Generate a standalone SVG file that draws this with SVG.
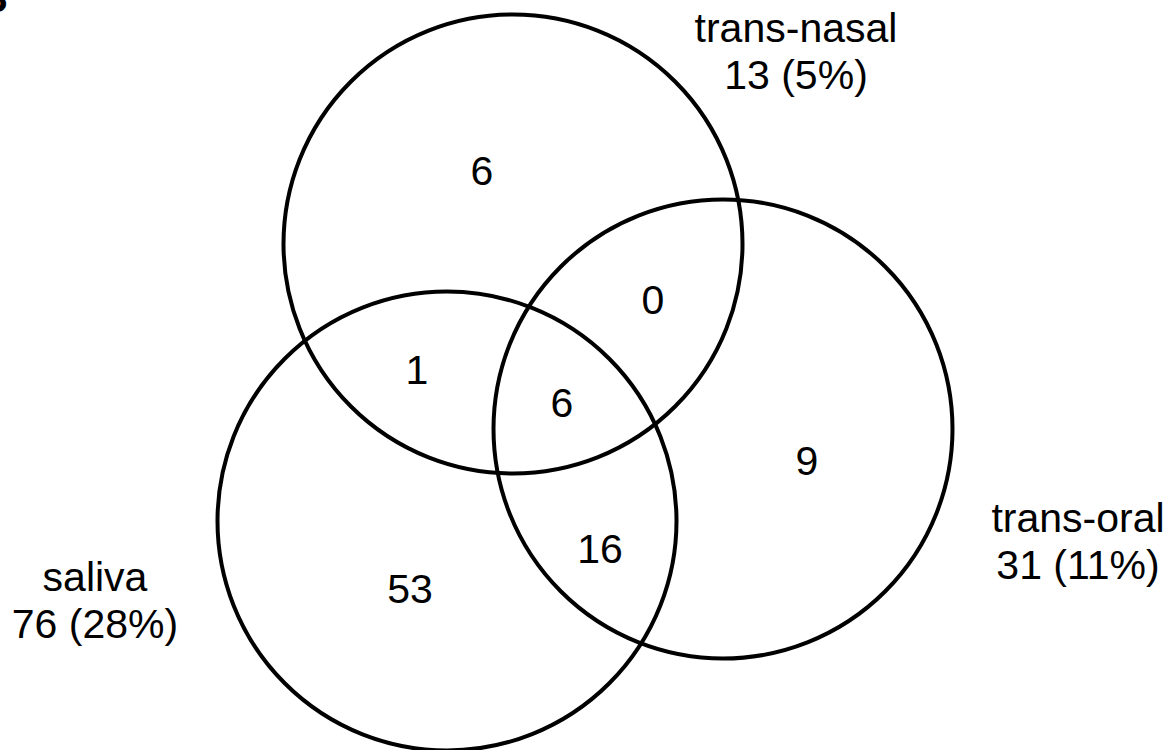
<svg xmlns="http://www.w3.org/2000/svg" width="1173" height="750" viewBox="0 0 1173 750">
  <style>
    .set { fill: none; stroke: #000; stroke-width: 4; }
    .lbl { font-family: "Liberation Sans", Arial, sans-serif; font-size: 41px; fill: #000; text-anchor: middle; }
    .panel { font-family: "Liberation Sans", Arial, sans-serif; font-size: 40px; font-weight: bold; fill: #000; }
  </style>
  <rect width="1173" height="750" fill="#fff"/>

  <!-- panel letter, mostly off the left edge -->
  <text class="panel" x="-21" y="12">B</text>

  <!-- three sets -->
  <g id="trans-nasal">
    <circle class="set" cx="513" cy="244" r="229.5"/>
    <text class="lbl" x="796" y="42">trans-nasal</text>
    <text class="lbl" x="796" y="89">13 (5%)</text>
  </g>
  <g id="saliva">
    <circle class="set" cx="447" cy="521" r="229.5"/>
    <text class="lbl" x="95" y="591">saliva</text>
    <text class="lbl" x="95" y="638">76 (28%)</text>
  </g>
  <g id="trans-oral">
    <circle class="set" cx="723" cy="429" r="229.5"/>
    <text class="lbl" x="1078" y="532">trans-oral</text>
    <text class="lbl" x="1078" y="579">31 (11%)</text>
  </g>

  <!-- region counts -->
  <g id="counts">
    <text class="lbl" x="482" y="185">6</text>
    <text class="lbl" x="653" y="314">0</text>
    <text class="lbl" x="417" y="384">1</text>
    <text class="lbl" x="562" y="417">6</text>
    <text class="lbl" x="807" y="475">9</text>
    <text class="lbl" x="600" y="563">16</text>
    <text class="lbl" x="410" y="603">53</text>
  </g>

  <g id="connectors"/>
</svg>
